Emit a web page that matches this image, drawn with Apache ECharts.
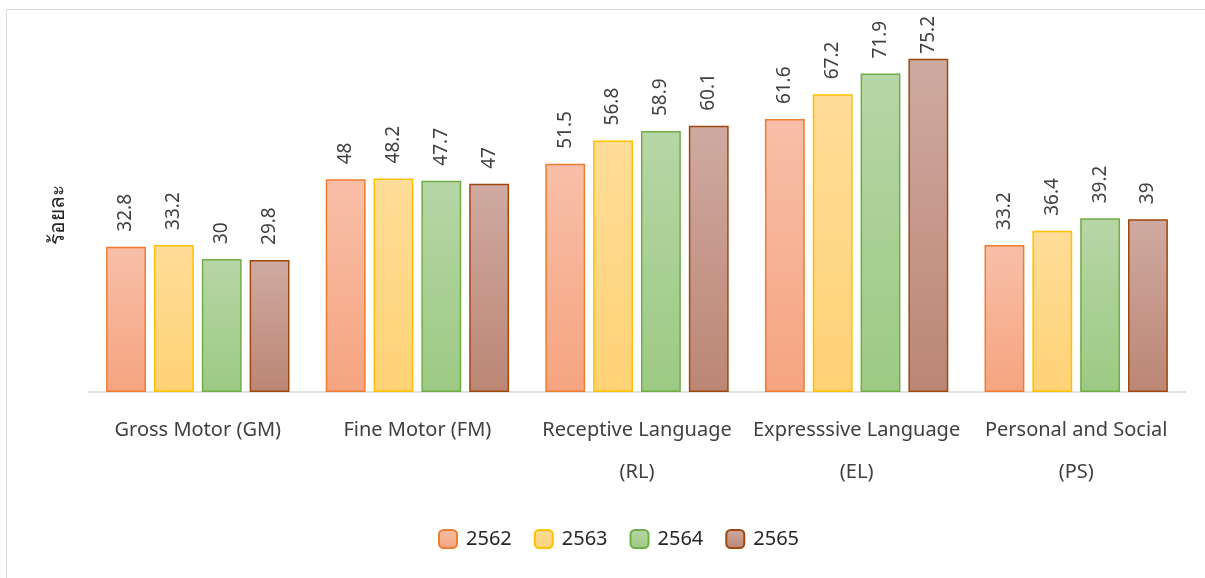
<!DOCTYPE html>
<html><head><meta charset="utf-8">
<script src="https://cdn.jsdelivr.net/npm/echarts@6/dist/echarts.min.js"></script>
<style>html,body{margin:0;padding:0;background:#fff}#c{width:1205px;height:578px}</style>
</head><body><div id="c"></div>
<script>
const categories = ['Gross Motor (GM)', 'Fine Motor (FM)', 'Receptive Language\n(RL)', 'Expresssive Language\n(EL)', 'Personal and Social\n(PS)'];
const seriesNames = ['2562', '2563', '2564', '2565'];
const v2562 = [32.8, 48, 51.5, 61.6, 33.2];
const v2563 = [33.2, 48.2, 56.8, 67.2, 36.4];
const v2564 = [30, 47.7, 58.9, 71.9, 39.2];
const v2565 = [29.8, 47, 60.1, 75.2, 39];
const yName = 'ร้อยละ';

const FONT = '"Noto Sans", "Open Sans", "DejaVu Sans", sans-serif';
const styles = [
  {top:'#F8BFA8', bot:'#F5A480', border:'#ED7D31'},
  {top:'#FFDC98', bot:'#FFD275', border:'#FFC000'},
  {top:'#B7D6A6', bot:'#9CCA83', border:'#70AD47'},
  {top:'#CFAAA1', bot:'#BC8674', border:'#9E480E'}
];
const values = [v2562, v2563, v2564, v2565];
const LABEL_FONT = 19, LABEL_DIST = 15, LABEL_MIN_TOP = 16;
const chart = echarts.init(document.getElementById('c'));
const baseSeries = () => seriesNames.map((n, i) => ({
  name: n, type: 'bar', data: values[i].slice(),
  barGap: '20%', barCategoryGap: '16.5%',
  itemStyle: {
    color: {type:'linear', x:0, y:0, x2:0, y2:1, colorStops:[{offset:0, color:styles[i].top},{offset:1, color:styles[i].bot}]},
    borderColor: styles[i].border, borderWidth: 1.5
  },
  label: {show: true, position: 'top', rotate: 90, align: 'left', verticalAlign: 'middle', distance: LABEL_DIST, fontSize: LABEL_FONT, color: '#404040'}
}));
chart.setOption({
  animation: false,
  textStyle: {fontFamily: FONT},
  graphic: [{type:'rect', shape:{x:6.5, y:9.5, width:1300, height:700}, style:{fill:'none', stroke:'#D9D9D9', lineWidth:1}}],
  grid: {left: 88, right: 19, top: 37.6, bottom: 186},
  legend: {
    data: seriesNames, bottom: 24, left: 433, itemWidth: 18, itemHeight: 18, itemGap: 22,
    textStyle: {fontSize: 20, color: '#262626', fontFamily: FONT, padding: [0, 0, 0, 4]}
  },
  xAxis: {
    type: 'category', data: categories,
    axisLine: {lineStyle: {color: '#D9D9D9', width: 1.5}},
    axisTick: {show: false},
    axisLabel: {fontSize: 20, color: '#404040', lineHeight: 42, margin: 17, interval: 0}
  },
  yAxis: {
    type: 'value', min: 0, max: 80, show: true,
    axisLine: {show:false}, axisTick: {show:false}, axisLabel: {show:false}, splitLine: {show:false},
    name: yName, nameLocation: 'middle', nameGap: 19, nameRotate: 90,
    nameTextStyle: {fontSize: 21, color: '#262626', fontFamily: FONT}
  },
  series: baseSeries()
});
// keep value labels inside the chart area (as the original does)
const ctx = document.createElement('canvas').getContext('2d');
ctx.font = LABEL_FONT + 'px ' + FONT;
const adjusted = seriesNames.map((n, i) => ({
  data: values[i].map((v, j) => {
    const yTop = chart.convertToPixel({gridIndex: 0}, [j, v])[1];
    const len = ctx.measureText(String(v)).width;
    const top = yTop - LABEL_DIST - len;
    if (top < LABEL_MIN_TOP) {
      return {value: v, label: {distance: Math.max(2, yTop - len - LABEL_MIN_TOP)}};
    }
    return v;
  })
}));
chart.setOption({series: adjusted});
</script></body></html>
